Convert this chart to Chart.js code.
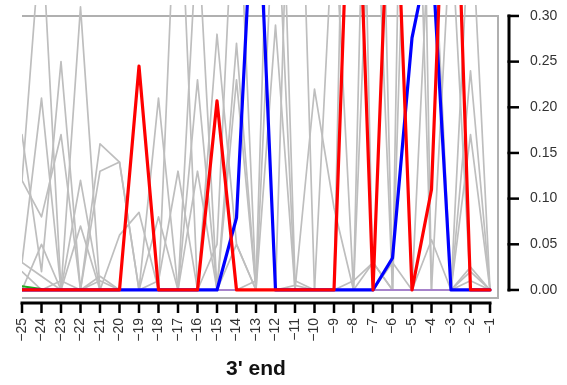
<!DOCTYPE html>
<html>
<head>
<meta charset="utf-8">
<script src="https://cdn.jsdelivr.net/npm/chart.js"></script>
<style>
  html, body { margin: 0; padding: 0; background: #ffffff; }
  #wrap { width: 567px; height: 385px; }
</style>
</head>
<body>
<div id="wrap"><canvas id="chart" width="567" height="385"></canvas></div>
<script>
  // positions along the 3' end
  const positions = [-25, -24, -23, -22, -21, -20, -19, -18, -17, -16, -15, -14, -13,
    -12, -11, -10, -9, -8, -7, -6, -5, -4, -3, -2, -1];
  const xTickLabels = ["\u221225", "\u221224", "\u221223", "\u221222", "\u221221", "\u221220",
    "\u221219", "\u221218", "\u221217", "\u221216", "\u221215", "\u221214", "\u221213",
    "\u221212", "\u221211", "\u221210", "\u22129", "\u22128", "\u22127", "\u22126", "\u22125",
    "\u22124", "\u22123", "\u22122", "\u22121"];
  const yTicks = [0, 0.05, 0.10, 0.15, 0.20, 0.25, 0.30];
  const yTickLabels = ["0.00", "0.05", "0.10", "0.15", "0.20", "0.25", "0.30"];

  // background (gray) profiles
  const gray1 = [0.12, 0.40, 0.00, 0.12, 0.00, 0.06, 0.085, 0.00, 0.50, 0.00, 0.05, 0.50, 0.00,
    0.46, 0.00, 0.22, 0.09, 0.00, 0.90, 0.00, 0.00, 0.055, 0.00, 0.24, 0.00];
  const gray2 = [0.17, 0.02, 0.25, 0.00, 0.16, 0.14, 0.00, 0.21, 0.00, 0.23, 0.00, 0.23, 0.00,
    0.29, 0.00, 0.00, 0.42, 0.00, 0.53, 0.00, 0.70, 0.00, 0.00, 0.43, 0.00];
  const gray3 = [0.03, 0.21, 0.00, 0.31, 0.00, 0.00, 0.00, 0.01, 0.13, 0.00, 0.28, 0.05, 0.00,
    0.00, 0.70, 0.00, 0.00, 0.00, 0.03, 0.00, 1.20, 0.00, 0.40, 0.00, 0.00];
  const gray4 = [0.12, 0.08, 0.17, 0.00, 0.13, 0.14, 0.00, 0.00, 0.00, 0.40, 0.00, 0.00, 0.01,
    0.70, 0.01, 0.00, 0.00, 0.00, 0.00, 0.03, 0.00, 0.00, 0.00, 0.025, 0.00];
  const gray5 = [0.00, 0.05, 0.00, 0.07, 0.00, 0.00, 0.00, 0.08, 0.00, 0.13, 0.00, 0.27, 0.00,
    0.00, 0.00, 0.00, 0.00, 1.00, 0.00, 0.00, 0.00, 0.45, 0.00, 0.17, 0.00];
  const gray6 = [0.03, 0.015, 0.00, 0.00, 0.01, 0.00, 0.00, 0.00, 0.00, 0.00, 0.00, 0.00, 0.00,
    0.00, 0.005, 0.00, 0.00, 0.01, 0.03, 0.00, 0.00, 0.00, 0.00, 0.02, 0.00];
  const gray7 = [0.02, 0.00, 0.01, 0.00, 0.015, 0.00, 0.00, 0.00, 0.00, 0.00, 0.00, 0.05, 0.00,
    0.00, 0.00, 0.00, 0.00, 0.00, 0.00, 0.00, 0.00, 0.00, 0.00, 0.01, 0.00];

  // highlighted profiles (null = not shown)
  const purpleSeries = [0, 0, 0, 0, 0, 0, 0, 0, 0, 0, 0, 0, 0, 0, 0, 0, 0, 0, 0, 0, 0, 0, 0, 0, 0];
  const greenSeries = [0.004, 0.001, null, null, null, null, null, null, null, null, null, null,
    null, null, null, null, null, null, null, null, null, null, null, null, null];
  const blueSeries = [0, 0, 0, 0, 0, 0, 0, 0, 0, 0, 0, 0.079, 0.50, 0, 0, 0, 0, 0, 0, 0.035,
    0.276, 0.38, 0, 0, 0];
  const redSeries = [0, 0, 0, 0, 0, 0, 0.245, 0, 0, 0, 0.207, 0, 0, 0, 0, 0, 0, 0.60, 0, 0.55,
    0, 0.11, 0.65, 0, 0];

  const GRAY = "#bebebe";

  function toPoints(values) {
    return positions.map((x, i) => ({ x: x, y: values[i] }));
  }

  function line(values, color, width) {
    return {
      data: toPoints(values),
      borderColor: color,
      borderWidth: width,
      borderJoinStyle: "round",
      borderCapStyle: "round",
      pointRadius: 0,
      tension: 0,
      fill: false,
    };
  }

  // box, axes and labels drawn R-style around the plot region
  const frame = {
    id: "frame",
    beforeDatasetsDraw(chart) {
      const { ctx, chartArea, scales } = chart;
      const top = scales.y.getPixelForValue(0.30);
      ctx.save();
      ctx.strokeStyle = "#b0b0b0";
      ctx.lineWidth = 2;
      ctx.beginPath();
      ctx.moveTo(chartArea.left, top);
      ctx.lineTo(chartArea.right, top);
      ctx.lineTo(chartArea.right, chartArea.bottom);
      ctx.lineTo(chartArea.left, chartArea.bottom);
      ctx.stroke();
      ctx.restore();
    },
    afterDraw(chart) {
      const { ctx, chartArea, scales } = chart;
      const x = scales.x, y = scales.y;
      ctx.save();
      ctx.strokeStyle = "#000000";
      ctx.fillStyle = "#333333";
      ctx.font = '14px "Liberation Sans", Arial, sans-serif';

      // right axis
      const ax = chartArea.right + 11;
      ctx.lineWidth = 3;
      ctx.beginPath();
      ctx.moveTo(ax, y.getPixelForValue(yTicks[0]) + 1.5);
      ctx.lineTo(ax, y.getPixelForValue(yTicks[yTicks.length - 1]) - 1.5);
      ctx.stroke();
      ctx.lineWidth = 2.5;
      ctx.textAlign = "left";
      ctx.textBaseline = "middle";
      yTicks.forEach((v, i) => {
        const py = y.getPixelForValue(v);
        ctx.beginPath();
        ctx.moveTo(ax - 1.5, py);
        ctx.lineTo(ax + 10, py);
        ctx.stroke();
        ctx.fillText(yTickLabels[i], ax + 21, py);
      });

      // bottom axis
      const ay = chartArea.bottom + 5;
      ctx.lineWidth = 3;
      ctx.beginPath();
      ctx.moveTo(x.getPixelForValue(positions[0]) - 1.5, ay);
      ctx.lineTo(x.getPixelForValue(positions[positions.length - 1]) + 1.5, ay);
      ctx.stroke();
      ctx.lineWidth = 2.5;
      positions.forEach((p, i) => {
        const px = x.getPixelForValue(p);
        ctx.beginPath();
        ctx.moveTo(px, ay);
        ctx.lineTo(px, ay + 10);
        ctx.stroke();
        ctx.save();
        ctx.translate(px, ay + 15);
        ctx.rotate(-Math.PI / 2);
        ctx.textAlign = "right";
        ctx.textBaseline = "middle";
        ctx.fillText(xTickLabels[i], 0, 0);
        ctx.restore();
      });

      // axis title
      const mid = (x.getPixelForValue(positions[0]) +
        x.getPixelForValue(positions[positions.length - 1])) / 2;
      ctx.fillStyle = "#111111";
      ctx.font = 'bold 21px "Liberation Sans", Arial, sans-serif';
      ctx.textAlign = "center";
      ctx.textBaseline = "middle";
      ctx.fillText("3' end", mid, 369);
      ctx.restore();
    },
  };

  // first dataset is drawn on top
  new Chart(document.getElementById("chart"), {
    type: "line",
    data: {
      datasets: [
        line(redSeries, "#ff0000", 3.2),
        line(blueSeries, "#0000ff", 3.2),
        line(greenSeries, "#22aa22", 2),
        line(purpleSeries, "#a070d0", 1.6),
        line(gray1, GRAY, 1.7),
        line(gray2, GRAY, 1.7),
        line(gray3, GRAY, 1.7),
        line(gray4, GRAY, 1.7),
        line(gray5, GRAY, 1.7),
        line(gray6, GRAY, 1.7),
        line(gray7, GRAY, 1.7),
      ],
    },
    options: {
      responsive: false,
      animation: false,
      devicePixelRatio: 1,
      layout: { padding: { left: 22, right: 69, top: 5, bottom: 87 } },
      plugins: { legend: { display: false }, tooltip: { enabled: false } },
      scales: {
        x: { type: "linear", min: -25, max: -0.59, display: false },
        y: { min: -0.0088, max: 0.312, display: false },
      },
    },
    plugins: [frame],
  });
</script>
</body>
</html>
